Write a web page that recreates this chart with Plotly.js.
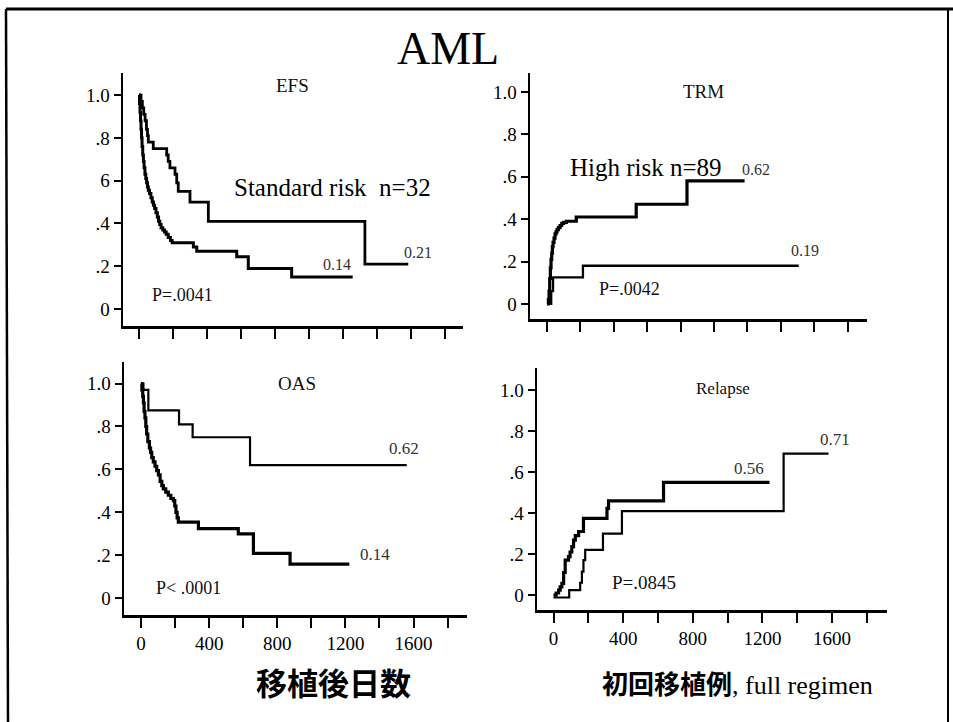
<!DOCTYPE html>
<html>
<head>
<meta charset="utf-8">
<script src="https://cdn.plot.ly/plotly-3.0.1.min.js"></script>
<style>html,body{margin:0;padding:0;background:#fff;}#chart{width:953px;height:722px;}</style>
</head>
<body>
<div id="chart"></div>
<script>
// ---- Data (days after transplant, probability) ----
// EFS
const efsStdDays  = [0, 12, 20, 28, 36, 44, 50, 55, 84, 163, 172, 182, 212, 222, 231, 300, 408, 1329, 1584];
const efsStdVals  = [1.0, 0.97, 0.94, 0.91, 0.88, 0.84, 0.81, 0.78, 0.75, 0.72, 0.69, 0.66, 0.63, 0.59, 0.55, 0.50, 0.41, 0.21, 0.21];
const efsHighDays = [0, 3, 6, 9, 12, 15, 18, 22, 26, 30, 35, 40, 45, 50, 55, 62, 70, 78, 85, 92, 100, 108, 115, 122, 130, 140, 150, 160, 172, 185, 195, 320, 340, 575, 643, 898, 1257];
const efsHighVals = [1.0, 0.96, 0.92, 0.88, 0.84, 0.80, 0.76, 0.72, 0.69, 0.66, 0.63, 0.61, 0.59, 0.57, 0.555, 0.54, 0.52, 0.50, 0.485, 0.47, 0.45, 0.43, 0.41, 0.395, 0.38, 0.37, 0.36, 0.35, 0.335, 0.32, 0.31, 0.29, 0.27, 0.245, 0.19, 0.15, 0.15];
// TRM
const trmHighDays = [0, 8, 12, 16, 20, 24, 28, 32, 36, 42, 48, 54, 60, 68, 78, 88, 100, 116, 175, 534, 838, 1183];
const trmHighVals = [0, 0.02, 0.06, 0.12, 0.17, 0.21, 0.24, 0.27, 0.29, 0.31, 0.33, 0.34, 0.35, 0.36, 0.37, 0.38, 0.385, 0.39, 0.41, 0.47, 0.58, 0.58];
const trmStdDays  = [0, 25, 36, 215, 1507];
const trmStdVals  = [0, 0.06, 0.125, 0.18, 0.18];
// OAS
const oasStdDays  = [0, 14, 43, 223, 303, 640, 1560];
const oasStdVals  = [1.0, 0.97, 0.875, 0.81, 0.75, 0.62, 0.62];
const oasHighDays = [0, 5, 10, 14, 18, 23, 28, 33, 40, 49, 56, 63, 72, 82, 92, 102, 112, 122, 131, 145, 160, 175, 190, 198, 205, 212, 219, 337, 571, 660, 875, 1223];
const oasHighVals = [1.0, 0.97, 0.94, 0.91, 0.87, 0.84, 0.80, 0.765, 0.73, 0.70, 0.68, 0.655, 0.635, 0.615, 0.595, 0.575, 0.545, 0.525, 0.51, 0.495, 0.48, 0.465, 0.455, 0.43, 0.40, 0.375, 0.355, 0.325, 0.30, 0.21, 0.16, 0.16];
// Relapse
const relHighDays = [0, 15, 29, 38, 48, 58, 67, 86, 95, 105, 115, 125, 144, 172, 307, 316, 632, 1241];
const relHighVals = [0, 0.01, 0.024, 0.04, 0.057, 0.11, 0.17, 0.187, 0.21, 0.236, 0.268, 0.29, 0.31, 0.374, 0.423, 0.46, 0.55, 0.55];
const relStdDays  = [0, 90, 153, 163, 172, 182, 284, 393, 1322, 1580];
const relStdVals  = [-0.012, 0.024, 0.06, 0.114, 0.17, 0.22, 0.30, 0.41, 0.69, 0.69];

// Tick labels
const xTickVals = [0, 200, 400, 600, 800, 1000, 1200, 1400, 1600, 1800];
const xTickText = ['0', '', '400', '', '800', '', '1200', '', '1600', ''];
const yTickVals = [0, 0.2, 0.4, 0.6, 0.8, 1.0];
const yTickText = ['0', '.2', '.4', '.6', '.8', '1.0'];
const yTickTextEFS = ['0', '.2', '.4', '6', '.8', '1.0'];

// ---- Layout helpers ----
const W = 953, H = 722;
const px = v => v / W;
const py = v => 1 - v / H;
const SERIF = '"Liberation Serif", "Times New Roman", serif';

function stepTrace(x, y, xa, ya, w) {
  return {x: x, y: y, xaxis: xa, yaxis: ya, type: 'scatter', mode: 'lines',
          line: {shape: 'hv', color: '#000', width: w}, hoverinfo: 'skip', showlegend: false};
}

const traces = [
  stepTrace(efsStdDays, efsStdVals, 'x', 'y', 2.8),
  stepTrace(efsHighDays, efsHighVals, 'x', 'y', 3.0),
  stepTrace(trmHighDays, trmHighVals, 'x2', 'y2', 3.2),
  stepTrace(trmStdDays, trmStdVals, 'x2', 'y2', 2.3),
  stepTrace(oasStdDays, oasStdVals, 'x3', 'y3', 2.2),
  stepTrace(oasHighDays, oasHighVals, 'x3', 'y3', 3.2),
  stepTrace(relHighDays, relHighVals, 'x4', 'y4', 3.2),
  stepTrace(relStdDays, relStdVals, 'x4', 'y4', 2.2)
];

function xAxis(domain, range, showLabels, anchor) {
  return {domain: domain, range: range, anchor: anchor, showline: true, linewidth: 2.5, linecolor: '#000',
          zeroline: false, showgrid: false, ticks: 'outside', ticklen: 10, tickwidth: 2, tickcolor: '#000',
          tickmode: 'array', tickvals: xTickVals, ticktext: xTickText, showticklabels: showLabels,
          tickfont: {family: SERIF, size: 19, color: '#000'}, fixedrange: true};
}
function yAxis(domain, range, ticktext, anchor) {
  return {domain: domain, range: range, anchor: anchor, showline: true, linewidth: 2.5, linecolor: '#000',
          zeroline: false, showgrid: false, ticks: 'outside', ticklen: 7, tickwidth: 2, tickcolor: '#000',
          tickmode: 'array', tickvals: yTickVals, ticktext: ticktext,
          tickfont: {family: SERIF, size: 19, color: '#000'}, fixedrange: true};
}

function ann(text, x, y, size, color) {
  return {text: text, xref: 'paper', yref: 'paper', x: px(x), y: py(y),
    xanchor: 'center', yanchor: 'middle', showarrow: false,
    font: {family: SERIF, size: size, color: color || '#111'}};
}

const annotations = [
  ann('AML', 448, 48, 46, '#000'),
  ann('EFS', 292, 86, 19),
  ann('TRM', 703, 91, 19),
  ann('OAS', 297, 383, 19),
  ann('Relapse', 723, 388, 17),
  ann('Standard risk\u00a0 n=32', 332, 187, 25, '#000'),
  ann('High risk n=89', 646, 167, 25, '#000'),
  ann('0.14', 337, 264, 16, '#333'),
  ann('0.21', 418, 252, 16, '#333'),
  ann('P=.0041', 182, 295, 18),
  ann('0.62', 756, 170, 16, '#333'),
  ann('0.19', 805, 250, 16, '#333'),
  ann('P=.0042', 629, 289, 18),
  ann('0.62', 404, 449, 17, '#333'),
  ann('0.14', 375, 554, 17, '#333'),
  ann('P< .0001', 188, 588, 18),
  ann('0.71', 835, 440, 17, '#333'),
  ann('0.56', 749, 468, 17, '#333'),
  ann('P=.0845', 644, 582, 19)
];
const cjk1 = ann('<b>移植後日数</b>', 333, 681, 31, '#000');
cjk1.font.family = '"Noto Sans CJK JP", sans-serif';
const cjk2 = ann('<b>初回移植例</b>, full regimen', 737, 685, 26, '#000');
cjk2.font.family = '"Liberation Serif", "Noto Sans CJK JP", serif';
annotations.push(cjk1, cjk2);

const layout = {
  width: W, height: H,
  margin: {l: 0, r: 0, t: 0, b: 0},
  paper_bgcolor: '#fff', plot_bgcolor: 'rgba(0,0,0,0)',
  showlegend: false,
  xaxis:  xAxis([px(123), px(463)], [-94, 1906], false, 'y'),
  yaxis:  yAxis([py(326), py(73)], [-0.079, 1.103], yTickTextEFS, 'x'),
  xaxis2: xAxis([px(530), px(867)], [-102, 1916], false, 'y2'),
  yaxis2: yAxis([py(319), py(73)], [-0.071, 1.089], yTickText, 'x2'),
  xaxis3: xAxis([px(124), px(467)], [-100, 1914], true, 'y3'),
  yaxis3: yAxis([py(615), py(362)], [-0.077, 1.10], yTickText, 'x3'),
  xaxis4: xAxis([px(537), px(887)], [-95, 1916], true, 'y4'),
  yaxis4: yAxis([py(610), py(368)], [-0.073, 1.108], yTickText, 'x4'),
  shapes: [
    {type: 'line', xref: 'paper', yref: 'paper', x0: px(6), x1: px(953), y0: py(9), y1: py(9), line: {color: '#000', width: 3}},
    {type: 'line', xref: 'paper', yref: 'paper', x0: px(6), x1: px(8), y0: py(9), y1: py(722), line: {color: '#000', width: 2.5}},
    {type: 'line', xref: 'paper', yref: 'paper', x0: px(948), x1: px(948), y0: py(9), y1: py(722), line: {color: '#000', width: 2}}
  ],
  annotations: annotations
};

Plotly.newPlot('chart', traces, layout, {displayModeBar: false, staticPlot: true});
</script>
</body>
</html>
